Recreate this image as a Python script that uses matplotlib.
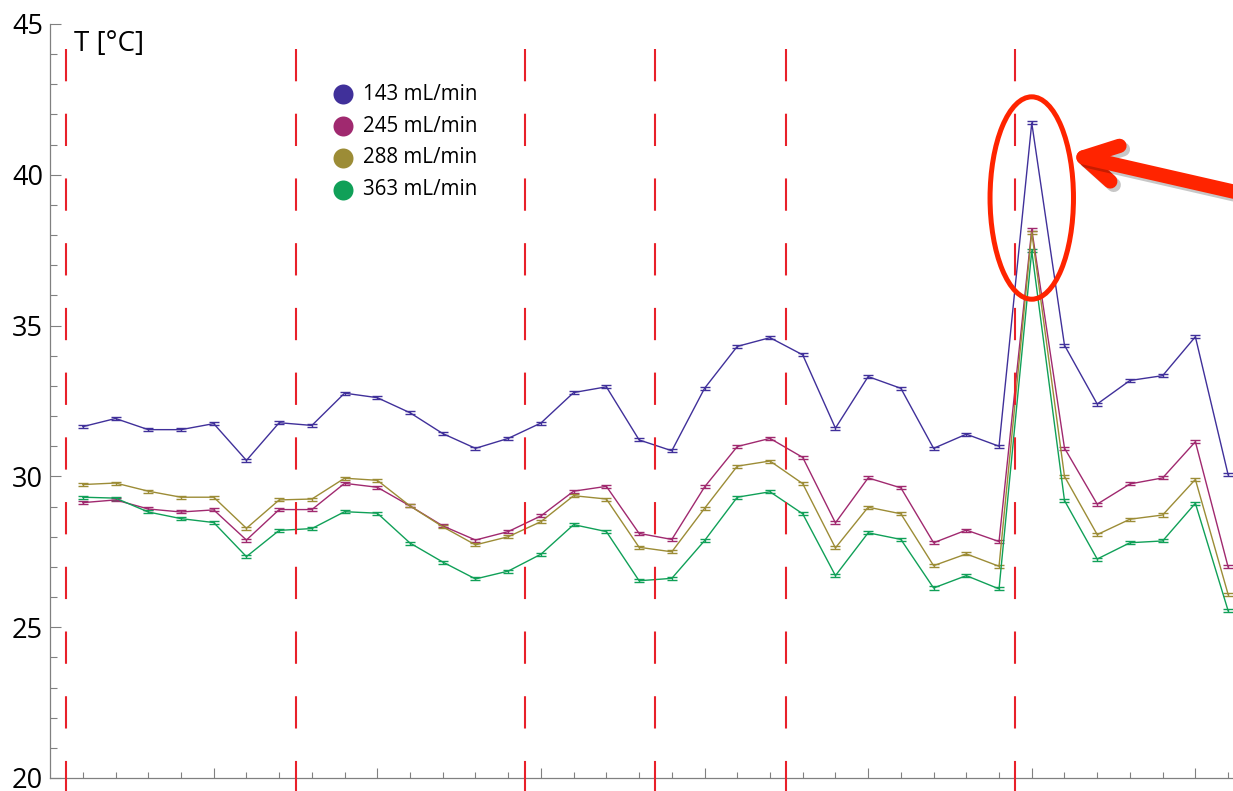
import matplotlib
matplotlib.use("Agg")
import matplotlib.pyplot as plt
from matplotlib.patches import Ellipse
from matplotlib.lines import Line2D
import matplotlib.patheffects as pe
import numpy as np

plt.rcParams['font.family'] = ['Open Sans', 'DejaVu Sans']
plt.rcParams['lines.scale_dashes'] = False

# ---------------- data ----------------
x = list(range(1, 37))
labels = ["143 mL/min", "245 mL/min", "288 mL/min", "363 mL/min"]
t143 = [31.65, 31.92, 31.55, 31.55, 31.75, 30.53, 31.78, 31.69, 32.76, 32.61, 32.11, 31.42,
        30.93, 31.26, 31.77, 32.78, 32.97, 31.21, 30.85, 32.92, 34.31, 34.60, 34.03, 31.60,
        33.31, 32.92, 30.93, 31.40, 31.00, 41.72, 34.35, 32.40, 33.18, 33.34, 34.63, 30.06]
t245 = [29.13, 29.22, 28.92, 28.82, 28.89, 27.89, 28.90, 28.90, 29.77, 29.64, 29.02, 28.36,
        27.89, 28.17, 28.69, 29.51, 29.67, 28.11, 27.91, 29.65, 30.99, 31.26, 30.63, 28.46,
        29.95, 29.62, 27.80, 28.22, 27.84, 38.19, 30.94, 29.08, 29.75, 29.95, 31.15, 27.00]
t288 = [29.73, 29.78, 29.51, 29.31, 29.31, 28.28, 29.22, 29.25, 29.94, 29.87, 29.02, 28.33,
        27.73, 28.00, 28.50, 29.36, 29.25, 27.65, 27.50, 28.94, 30.34, 30.51, 29.76, 27.63,
        28.98, 28.76, 27.04, 27.43, 27.02, 38.09, 30.00, 28.07, 28.58, 28.72, 29.90, 26.09]
t363 = [29.31, 29.28, 28.82, 28.60, 28.47, 27.34, 28.21, 28.27, 28.83, 28.78, 27.79, 27.16,
        26.60, 26.86, 27.42, 28.40, 28.17, 26.54, 26.62, 27.87, 29.31, 29.49, 28.76, 26.71,
        28.13, 27.91, 26.30, 26.71, 26.27, 37.48, 29.20, 27.26, 27.80, 27.86, 29.11, 25.55]
err = 0.05
boundaries = [0.5, 7.5, 14.5, 18.5, 22.5, 29.5]
series = [t143, t245, t288, t363]
colors = ['#40309A', '#A0296F', '#9C8C36', '#10A058']

# ---------------- figure ----------------
W, H = 1233, 791
fig = plt.figure(figsize=(W / 100, H / 100), dpi=100)
ax = fig.add_axes([50.1 / W, 13 / H, (W - 50.1) / W, 754 / H])
ax.set_xlim(0, 36.15)
ax.set_ylim(20, 45)

for s, c in zip(series, colors):
    ax.errorbar(x, s, yerr=err, color=c, lw=1.0, elinewidth=1.0, capsize=3.4,
                capthick=1.0, zorder=3, clip_on=False)

# red dashed boundaries
for b in boundaries:
    ax.plot([b, b], [44.171, 19.5], color='#E8202A', lw=1.5, dashes=(23.25, 23.35),
            clip_on=False, zorder=4)

# axes styling
for side in ['top', 'right']:
    ax.spines[side].set_visible(False)
for side in ['left', 'bottom']:
    ax.spines[side].set_color('#808080')
    ax.spines[side].set_linewidth(0.9)
ax.set_yticks([20, 25, 30, 35, 40, 45])
ax.set_yticks(np.arange(20, 46, 1), minor=True)
ax.set_xticks(np.arange(5, 36, 5))
ax.set_xticks(np.arange(1, 37, 1), minor=True)
ax.set_xticklabels([])
ax.tick_params(axis='both', which='both', direction='in', color='#808080', width=0.8)
ax.tick_params(axis='y', which='major', length=7.9, labelsize=19.5, pad=5)
ax.tick_params(axis='y', which='minor', length=4.8)
ax.tick_params(axis='x', which='major', length=7.5)
ax.tick_params(axis='x', which='minor', length=4.5)

ax.text(0.0202, 0.9646, "T [°C]", transform=ax.transAxes, fontsize=20,
        ha='left', va='baseline')

# legend
for i, (lab, c) in enumerate(zip(labels, colors)):
    yy = 0.9068 - i * 0.0422
    ax.plot([0.2479], [yy], marker='o', ms=14.4, color=c, mec='none',
            transform=ax.transAxes, clip_on=False)
    ax.text(0.2645, yy, lab, transform=ax.transAxes, fontsize=14.8,
            ha='left', va='center')

# highlight annotation
red = '#FF2400'
peak = int(np.argmax(t143))
ell = Ellipse((x[peak], 39.23), 2.55, 6.71, fill=False, edgecolor=red, lw=3.6,
              clip_on=False, zorder=5)
ax.add_patch(ell)
shadow = [pe.SimpleLineShadow(offset=(2.5, -2.5), shadow_color='k', alpha=0.22), pe.Normal()]
head = Line2D([32.68, 31.58, 32.40], [40.96, 40.58, 39.78], color=red, lw=10.3,
              solid_capstyle='round', solid_joinstyle='round', clip_on=False, zorder=6,
              path_effects=shadow)
shaft = Line2D([31.58, 36.5], [40.58, 39.36], color=red, lw=10.3,
               solid_capstyle='round', clip_on=False, zorder=6, path_effects=shadow)
ax.add_line(head)
ax.add_line(shaft)

fig.savefig("out.png", dpi=100)
